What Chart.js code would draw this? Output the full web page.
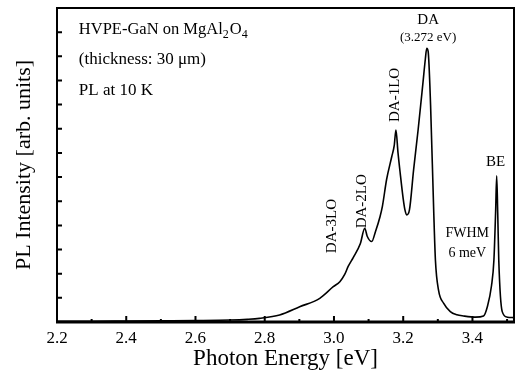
<!DOCTYPE html>
<html>
<head>
<meta charset="utf-8">
<script src="https://cdn.jsdelivr.net/npm/chart.js"></script>
<style>
  html, body { margin: 0; padding: 0; background: #fff; }
</style>
</head>
<body>
<canvas id="plChart" width="518" height="374"></canvas>
<script>
// PL spectrum (photon energy in eV, intensity in arb. units)
const energy = [2.20, 2.30, 2.40, 2.50, 2.60, 2.70, 2.75, 2.785, 2.843, 2.901, 2.959, 2.998,
  3.017, 3.031, 3.041, 3.056, 3.076, 3.089, 3.096, 3.109, 3.120, 3.133, 3.140, 3.152, 3.167,
  3.174, 3.179, 3.185, 3.191, 3.200, 3.205, 3.210, 3.218, 3.230, 3.243, 3.257, 3.264, 3.268,
  3.272, 3.279, 3.288, 3.293, 3.302, 3.317, 3.336, 3.355, 3.374, 3.409, 3.432, 3.443, 3.455,
  3.462, 3.467, 3.470, 3.473, 3.476, 3.486, 3.501, 3.52];
const intensity = [0.03, 0.03, 0.04, 0.05, 0.06, 0.08, 0.11, 0.15, 0.29, 0.63, 0.98, 1.46,
  1.67, 1.97, 2.3, 2.68, 3.24, 3.88, 3.55, 3.33, 3.75, 4.36, 4.8, 5.9, 6.85,
  7.3, 7.95, 7.0, 6.2, 5.1, 4.64, 4.43, 4.64, 6.3, 7.95, 9.9, 10.9, 11.33,
  11.2, 9.0, 4.64, 2.57, 1.32, 0.77, 0.43, 0.3, 0.25, 0.2, 0.25, 0.63, 1.5,
  2.57, 4.6, 6.05, 4.5, 2.57, 0.43, 0.2, 0.18];

const xMajorTicks = [2.2, 2.4, 2.6, 2.8, 3.0, 3.2, 3.4];
const xMinorTicks = [2.3, 2.5, 2.7, 2.9, 3.1, 3.3, 3.5];
const yTicks = [1, 2, 3, 4, 5, 6, 7, 8, 9, 10, 11, 12];

const SERIF = '"Liberation Serif", "DejaVu Serif", serif';

// peak labels placed in data coordinates
const peakLabels = [
  { text: 'DA', x: 3.272, y: 12.5, rot: false, size: 15 },
  { text: '(3.272 eV)', x: 3.272, y: 11.76, rot: false, size: 13 },
  { text: 'DA-1LO', x: 3.176, y: 9.4, rot: true, size: 15 },
  { text: 'DA-2LO', x: 3.081, y: 5.0, rot: true, size: 15 },
  { text: 'DA-3LO', x: 2.994, y: 3.97, rot: true, size: 15 },
  { text: 'BE', x: 3.467, y: 6.62, rot: false, size: 15 },
  { text: 'FWHM', x: 3.385, y: 3.69, rot: false, size: 14 },
  { text: '6 meV', x: 3.385, y: 2.86, rot: false, size: 14 }
];

const decorations = {
  id: 'decorations',
  afterDatasetsDraw(chart) {
    const { ctx, chartArea: a, scales: { x, y } } = chart;
    ctx.save();
    ctx.strokeStyle = '#000';
    ctx.fillStyle = '#000';

    // frame
    ctx.lineWidth = 2;
    ctx.strokeRect(a.left, a.top, a.right - a.left, a.bottom - a.top);
    ctx.lineWidth = 3;
    ctx.beginPath();
    ctx.moveTo(a.left - 1, a.bottom);
    ctx.lineTo(a.right + 1, a.bottom);
    ctx.stroke();

    // inward ticks
    ctx.lineWidth = 2;
    ctx.beginPath();
    xMajorTicks.forEach(v => {
      const px = x.getPixelForValue(v);
      ctx.moveTo(px, a.bottom);
      ctx.lineTo(px, a.bottom - 6);
    });
    xMinorTicks.forEach(v => {
      const px = x.getPixelForValue(v);
      ctx.moveTo(px, a.bottom);
      ctx.lineTo(px, a.bottom - 3);
    });
    yTicks.forEach(v => {
      const py = y.getPixelForValue(v);
      ctx.moveTo(a.left, py);
      ctx.lineTo(a.left + 5, py);
    });
    ctx.stroke();

    // header text
    const hx = x.getPixelForValue(2.263);
    ctx.textAlign = 'left';
    ctx.textBaseline = 'middle';
    const py = y.getPixelForValue(12.09);
    let cx = hx;
    const parts = [['HVPE-GaN on MgAl', 0], ['2', 1], ['O', 0], ['4', 1]];
    parts.forEach(([t, sub]) => {
      ctx.font = (sub ? '12px ' : '16.5px ') + SERIF;
      ctx.fillText(t, cx, py + (sub ? 5 : 0));
      cx += ctx.measureText(t).width + (sub ? 1 : 0);
    });
    ctx.font = '17px ' + SERIF;
    ctx.fillText('(thickness: 30 \u03bcm)', hx, y.getPixelForValue(10.85));
    ctx.fillText('PL at 10 K', hx, y.getPixelForValue(9.6));

    // peak labels
    ctx.textAlign = 'center';
    peakLabels.forEach(l => {
      ctx.font = l.size + 'px ' + SERIF;
      const px = x.getPixelForValue(l.x);
      const pyl = y.getPixelForValue(l.y);
      if (l.rot) {
        ctx.save();
        ctx.translate(px, pyl);
        ctx.rotate(-Math.PI / 2);
        ctx.fillText(l.text, 0, 0);
        ctx.restore();
      } else {
        ctx.fillText(l.text, px, pyl);
      }
    });
    ctx.restore();
  }
};

new Chart(document.getElementById('plChart'), {
  type: 'scatter',
  data: {
    datasets: [{
      data: energy.map((e, i) => ({ x: e, y: intensity[i] })),
      showLine: true,
      borderColor: '#000',
      borderWidth: 1.6,
      pointRadius: 0,
      cubicInterpolationMode: 'monotone'
    }]
  },
  options: {
    responsive: false,
    animation: false,
    layout: { padding: { top: 8, right: 4, left: 0, bottom: 0 } },
    plugins: { legend: { display: false }, tooltip: { enabled: false } },
    scales: {
      x: {
        type: 'linear',
        min: 2.2,
        max: 3.52,
        afterFit: s => { s.height = 52; },
        afterBuildTicks: s => { s.ticks = xMajorTicks.map(v => ({ value: v })); },
        grid: { display: false, drawTicks: false },
        border: { display: false },
        ticks: {
          padding: 6,
          color: '#000',
          font: { family: SERIF, size: 17 },
          callback: v => v.toFixed(1)
        },
        title: {
          display: true,
          text: 'Photon Energy [eV]',
          color: '#000',
          font: { family: SERIF, size: 23 },
          padding: { top: 0, bottom: 1 }
        }
      },
      y: {
        min: 0,
        max: 13,
        afterFit: s => { s.width = 57; },
        grid: { display: false, drawTicks: false },
        border: { display: false },
        ticks: { display: false },
        title: {
          display: true,
          text: 'PL Intensity [arb. units]',
          color: '#000',
          font: { family: SERIF, size: 22 },
          padding: { top: 11, bottom: 0 }
        }
      }
    }
  },
  plugins: [decorations]
});
</script>
</body>
</html>
